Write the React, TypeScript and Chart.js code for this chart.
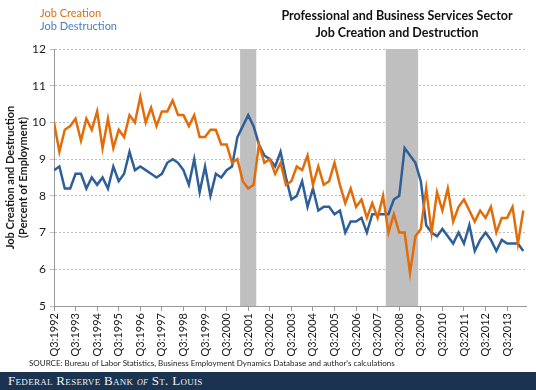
import React, { useEffect, useRef } from "react";
import { Chart, registerables } from "chart.js";

Chart.register(...registerables);

// Quarterly data, Q3:1992 .. Q2:2014 (percent of employment)
const jobCreation = [
  10.0, 9.2, 9.8, 9.9, 10.1, 9.5, 10.1, 9.8, 10.3, 9.3, 10.1, 9.3, 9.8, 9.6, 10.2, 10.0,
  10.7, 10.0, 10.4, 9.9, 10.3, 10.3, 10.6, 10.2, 10.2, 9.9, 10.2, 9.6, 9.6, 9.8, 9.8, 9.4,
  9.4, 8.9, 9.0, 8.4, 8.2, 8.3, 9.4, 8.9, 9.0, 8.6, 8.9, 8.3, 8.4, 8.8, 8.7, 9.1,
  8.3, 8.8, 8.3, 8.4, 8.9, 8.3, 7.8, 8.2, 7.7, 7.9, 7.4, 7.8, 7.4, 8.0, 7.0, 7.5,
  7.0, 7.0, 5.9, 6.9, 7.1, 8.2, 7.0, 8.1, 7.6, 8.2, 7.3, 7.7, 7.9, 7.6, 7.3, 7.6,
  7.4, 7.7, 7.0, 7.4, 7.4, 7.7, 6.7, 7.6,
];
const jobDestruction = [
  8.7, 8.8, 8.2, 8.2, 8.6, 8.6, 8.2, 8.5, 8.3, 8.5, 8.2, 8.8, 8.4, 8.6, 9.2, 8.7,
  8.8, 8.7, 8.6, 8.5, 8.6, 8.9, 9.0, 8.9, 8.7, 8.3, 9.0, 8.1, 8.8, 8.0, 8.6, 8.5,
  8.7, 8.8, 9.6, 9.9, 10.2, 9.9, 9.4, 9.1, 9.0, 8.8, 9.2, 8.5, 7.9, 8.0, 8.4, 7.7,
  8.2, 7.6, 7.7, 7.7, 7.5, 7.6, 7.0, 7.3, 7.3, 7.4, 7.0, 7.5, 7.5, 7.5, 7.5, 7.9,
  8.0, 9.3, 9.1, 8.9, 8.4, 7.2, 7.0, 6.9, 7.1, 6.9, 6.7, 7.0, 6.7, 7.2, 6.5, 6.8,
  7.0, 6.8, 6.5, 6.8, 6.7, 6.7, 6.7, 6.5,
];
const tickLabels = [
  "Q3:1992", "Q3:1993", "Q3:1994", "Q3:1995", "Q3:1996", "Q3:1997", "Q3:1998", "Q3:1999",
  "Q3:2000", "Q3:2001", "Q3:2002", "Q3:2003", "Q3:2004", "Q3:2005", "Q3:2006", "Q3:2007",
  "Q3:2008", "Q3:2009", "Q3:2010", "Q3:2011", "Q3:2012", "Q3:2013",
];
// Recessions, in quarter index from Q3:1992
const recessionStarts = [34.5, 61.5];
const recessionEnds = [37.5, 67.5];

const ORANGE = "#E36C0A";
const BLUE = "#2F5F99";
const FONT = 'Lato, "Open Sans", sans-serif';

const recessionPlugin = {
  id: "recessions",
  beforeDatasetsDraw(chart: any) {
    const { ctx, chartArea, scales } = chart;
    ctx.save();
    ctx.fillStyle = "#BFBFBF";
    recessionStarts.forEach((s, k) => {
      const x1 = scales.x.getPixelForValue(s);
      const x2 = scales.x.getPixelForValue(recessionEnds[k]);
      ctx.fillRect(x1, chartArea.top, x2 - x1, chartArea.bottom - chartArea.top);
    });
    ctx.restore();
  },
};

export default function App() {
  const ref = useRef<HTMLCanvasElement | null>(null);
  useEffect(() => {
    if (!ref.current) return;
    const chart = new Chart(ref.current, {
      type: "line",
      data: {
        datasets: [
          {
            label: "Job Creation",
            data: jobCreation.map((v, i) => ({ x: i, y: v })),
            borderColor: ORANGE,
            borderWidth: 2.5,
            pointRadius: 0,
            tension: 0,
          },
          {
            label: "Job Destruction",
            data: jobDestruction.map((v, i) => ({ x: i, y: v })),
            borderColor: BLUE,
            borderWidth: 2.5,
            pointRadius: 0,
            tension: 0,
          },
        ],
      },
      options: {
        animation: false,
        responsive: false,
        devicePixelRatio: 1,
        layout: { padding: { top: 49, right: 10, left: 0, bottom: 0 } },
        plugins: { legend: { display: false }, tooltip: { enabled: false } },
        scales: {
          x: {
            type: "linear",
            min: 0,
            max: 87.5,
            afterBuildTicks: (scale: any) => {
              scale.ticks = tickLabels.map((_, i) => ({ value: i * 4 }));
            },
            afterFit: (scale: any) => {
              scale.height = 64;
            },
            ticks: {
              autoSkip: false,
              minRotation: 90,
              maxRotation: 90,
              padding: 2,
              color: "#1a1a1a",
              font: { family: FONT, size: 11 },
              callback: (v: any) => tickLabels[Math.round(Number(v) / 4)] ?? "",
            },
            grid: { drawOnChartArea: false, drawTicks: true, tickLength: 5, color: "#999" },
            border: { color: "#999", width: 1 },
          },
          y: {
            min: 5,
            max: 12,
            afterFit: (scale: any) => {
              scale.width = 54;
            },
            ticks: {
              stepSize: 1,
              padding: 4,
              color: "#1a1a1a",
              font: { family: FONT, size: 12 },
            },
            grid: { color: "#BDBDBD", tickLength: 4 },
            border: { color: "#999", width: 1, dash: [2, 2] },
            title: {
              display: true,
              text: ["Job Creation and Destruction", "(Percent of Employment)"],
              color: "#1a1a1a",
              font: { family: FONT, size: 11, weight: "bold", lineHeight: 1.15 },
              padding: { top: 4, bottom: 2 },
            },
          },
        },
      },
      plugins: [recessionPlugin],
    });
    return () => chart.destroy();
  }, []);

  return (
    <div
      style={{
        position: "absolute",
        left: 0,
        top: 0,
        width: 536,
        height: 390,
        background: "#fff",
        overflow: "hidden",
        fontFamily: FONT,
      }}
    >
      <canvas ref={ref} width={536} height={370} style={{ position: "absolute", left: 0, top: 0 }} />
      <div style={{ position: "absolute", left: 40, top: 6, fontSize: 11, lineHeight: "13px" }}>
        <div style={{ color: ORANGE }}>Job Creation</div>
        <div style={{ color: "#4A7EBB" }}>Job Destruction</div>
      </div>
      <div
        style={{
          position: "absolute",
          left: 267,
          width: 260,
          top: 7,
          textAlign: "center",
          fontWeight: "bold",
          fontSize: 12.5,
          lineHeight: "17px",
          color: "#111",
          whiteSpace: "nowrap",
        }}
      >
        <div>Professional and Business Services Sector</div>
        <div>Job Creation and Destruction</div>
      </div>
      <div
        style={{
          position: "absolute",
          left: 29,
          top: 358,
          fontSize: 8,
          color: "#222",
          whiteSpace: "nowrap",
        }}
      >
        SOURCE: Bureau of Labor Statistics, Business Employment Dynamics Database and author's calculations
      </div>
      <div
        style={{
          position: "absolute",
          left: 0,
          top: 372,
          width: 536,
          height: 18,
          background: "#1A3350",
        }}
      >
        <div
          style={{
            position: "absolute",
            left: 8,
            top: 1,
            color: "#F2F2F2",
            fontFamily: '"Liberation Serif", "DejaVu Serif", serif',
            fontVariant: "small-caps",
            fontSize: 13,
            lineHeight: "16px",
            letterSpacing: 0.3,
            whiteSpace: "nowrap",
          }}
        >
          Federal Reserve Bank <i style={{ fontSize: 11 }}>of</i> St. Louis
        </div>
      </div>
    </div>
  );
}
